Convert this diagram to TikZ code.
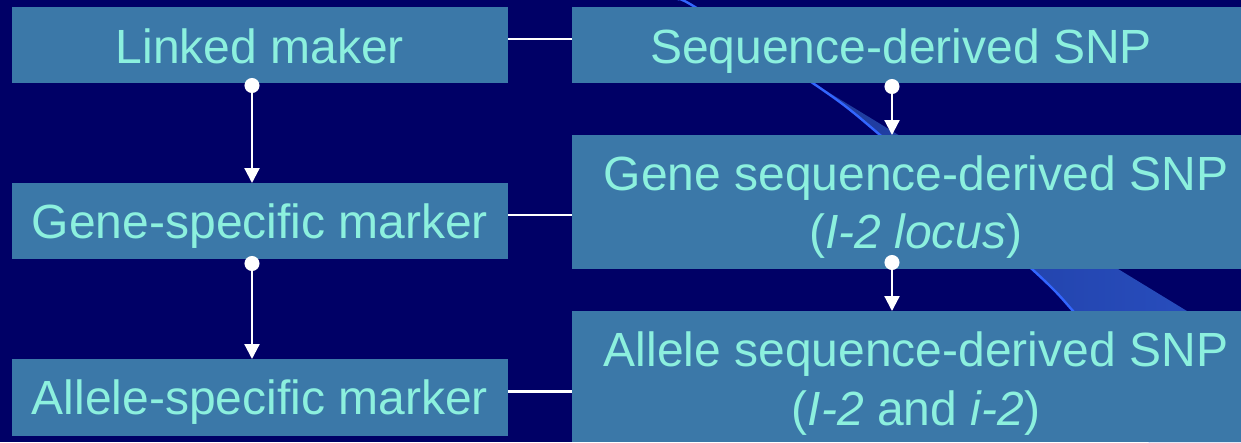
\documentclass[tikz,border=0pt]{standalone}
\usepackage{fontspec}
\setmainfont{Liberation Sans}
\usetikzlibrary{arrows.meta}
\definecolor{bgnavy}{RGB}{0,0,102}
\definecolor{boxblue}{RGB}{59,120,168}
\definecolor{txtaqua}{RGB}{140,240,222}
\definecolor{swooshline}{RGB}{51,102,255}
\definecolor{wedgeL}{RGB}{30,58,155}
\definecolor{wedgeR}{RGB}{42,82,198}
\tikzset{
  boxnode/.style={fill=boxblue, draw=none, inner sep=0pt, outer sep=0pt},
  txtnode/.style={text=txtaqua, inner sep=0pt, anchor=base, font=\fontsize{48}{58}\selectfont},
  connline/.style={draw=white, line width=2.7pt},
  flowarrow/.style={draw=white, line width=2.2pt, {Circle[length=15pt,width=15pt]}-{Triangle[length=15pt,width=15pt]}},
}
\begin{document}
\begin{tikzpicture}[x=1pt,y=-1pt]
\useasboundingbox (0,0) rectangle (1241,442);
\fill[bgnavy] (0,0) rectangle (1241,442);
% decorative swoosh
\shade[left color=wedgeL, right color=wedgeR]
  (805,78) -- (1300,380) -- (1300,442) -- (1150,442)
  -- plot[smooth] coordinates {(1150,442) (1110,355) (1073,311) (1033,270) (880,135) (820,88) (805,78)} -- cycle;
\draw[swooshline, line width=2.4pt] plot[smooth] coordinates {(678,0) (695,7) (820,88) (880,135) (1033,270) (1073,311) (1110,355) (1150,442)};
% boxes
\node[boxnode, minimum width=496pt, minimum height=76pt] (LM) at (260,45) {};
\node[boxnode, minimum width=496pt, minimum height=76pt] (GS) at (260,221) {};
\node[boxnode, minimum width=496pt, minimum height=77pt] (AS) at (260,397.5) {};
\node[boxnode, minimum width=669pt, minimum height=76pt] (SD) at (906.5,45) {};
\node[boxnode, minimum width=669pt, minimum height=134pt] (GSD) at (906.5,202) {};
\node[boxnode, minimum width=669pt, minimum height=131pt] (ASD) at (906.5,376.5) {};
% texts
\node[txtnode] (tLM) at (260,63) {Linked maker};
\node[txtnode] (tGS) at (260,238) {Gene-specific marker};
\node[txtnode] (tAS) at (260,414) {Allele-specific marker};
\node[txtnode] (tSD) at (901,63) {Sequence-derived SNP};
\node[txtnode] (tGSD1) at (916,190) {Gene sequence-derived SNP};
\node[txtnode] (tGSD2) at (916,248) {(\textit{I-2 locus})};
\node[txtnode] (tASD1) at (916,366) {Allele sequence-derived SNP};
\node[txtnode] (tASD2) at (916,425) {(\textit{I-2} and \textit{i-2})};
% horizontal connectors
\coordinate (c1) at ([yshift=6pt]LM.east);
\coordinate (c2) at ([yshift=6pt]GS.east);
\coordinate (c3) at ([yshift=6pt]AS.east);
\draw[connline] (c1) -- (c1 -| SD.west);
\draw[connline] (c2) -- (c2 -| GSD.west);
\draw[connline] (c3) -- (c3 -| ASD.west);
% vertical arrows
\draw[flowarrow] ([xshift=-8pt,yshift=5pt]LM.south) -- ([xshift=-8pt]GS.north);
\draw[flowarrow] ([xshift=-8pt,yshift=3pt]GS.south) -- ([xshift=-8pt]AS.north);
\draw[flowarrow] ([xshift=-14.5pt,yshift=4pt]SD.south) -- ([xshift=-14.5pt]GSD.north);
\draw[flowarrow] ([xshift=-14.5pt,yshift=14pt]GSD.south) -- ([xshift=-14.5pt]ASD.north);
\end{tikzpicture}
\end{document}
